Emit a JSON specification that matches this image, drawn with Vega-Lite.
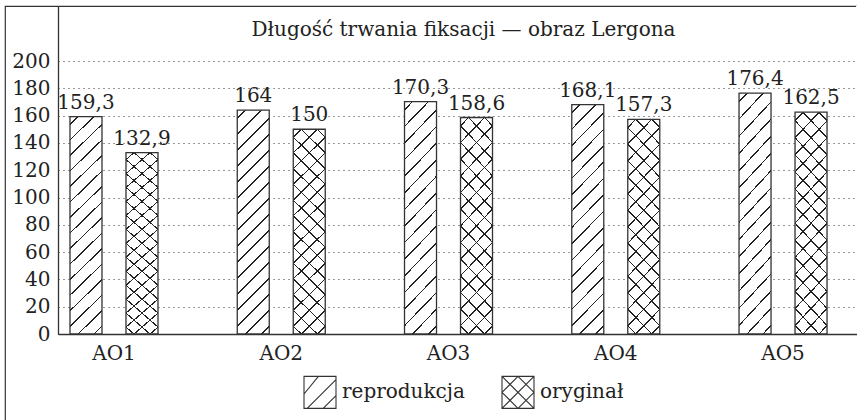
{
"$schema": "https://vega.github.io/schema/vega-lite/v6.json",
"width": 852,
"height": 414,
"autosize": {"type": "none"},
"padding": {"left": 5, "top": 6, "right": 0, "bottom": 0},
"background": "white",
"config": {
  "view": {"stroke": {"gradient": "linear", "x1": 0, "y1": 0, "x2": 1, "y2": 1, "stops": [{"offset": 0, "color": "#333"}, {"offset": 0.4997, "color": "#333"}, {"offset": 0.4997, "color": "rgba(0,0,0,0)"}, {"offset": 1, "color": "rgba(0,0,0,0)"}]}, "strokeWidth": 1.2},
  "font": "DejaVu Serif"
},
"title": {"text": "Długość trwania fiksacji — obraz Lergona", "font": "DejaVu Serif", "fontSize": 20, "fontWeight": "normal", "color": "#222", "anchor": "middle", "frame": "group", "offset": -32, "baseline": "alphabetic", "dx": 32.5, "dy": 18},
"data": {"values": [
  {"ao": "AO1", "seria": "reprodukcja", "v": 159.3, "lab": "159,3"},
  {"ao": "AO1", "seria": "oryginał", "v": 132.9, "lab": "132,9"},
  {"ao": "AO2", "seria": "reprodukcja", "v": 164, "lab": "164"},
  {"ao": "AO2", "seria": "oryginał", "v": 150, "lab": "150"},
  {"ao": "AO3", "seria": "reprodukcja", "v": 170.3, "lab": "170,3"},
  {"ao": "AO3", "seria": "oryginał", "v": 158.6, "lab": "158,6"},
  {"ao": "AO4", "seria": "reprodukcja", "v": 168.1, "lab": "168,1"},
  {"ao": "AO4", "seria": "oryginał", "v": 157.3, "lab": "157,3"},
  {"ao": "AO5", "seria": "reprodukcja", "v": 176.4, "lab": "176,4"},
  {"ao": "AO5", "seria": "oryginał", "v": 162.5, "lab": "162,5"}
]},
"encoding": {
  "x": {"field": "ao", "type": "nominal", "scale": {"range": [53, 852], "paddingInner": 0.5, "paddingOuter": 0.1385, "align": 0.306},
        "axis": {"title": null, "orient": "bottom", "offset": -86, "ticks": false, "tickSize": 0, "labelPadding": 9, "labelAngle": 0, "labelFont": "DejaVu Serif", "labelFontSize": 20, "labelColor": "#222", "domainColor": "#333", "domainWidth": 1.3, "grid": false}},
  "xOffset": {"field": "seria", "type": "nominal", "scale": {"domain": ["reprodukcja", "oryginał"], "paddingInner": 0.6, "paddingOuter": 0.0467}},
  "y": {"field": "v", "type": "quantitative", "scale": {"domain": [0, 240.3], "range": [328, 0], "nice": false, "zero": true},
        "axis": {"title": null, "orient": "left", "offset": -53, "values": [0, 20, 40, 60, 80, 100, 120, 140, 160, 180, 200], "ticks": false, "tickSize": 0, "labelPadding": 8, "labelFont": "DejaVu Serif", "labelFontSize": 20, "labelColor": "#222", "labelFlush": false, "domainColor": "#333", "domainWidth": 1.3, "grid": true, "gridDash": [1, 4], "gridColor": "#333", "gridWidth": 1}}
},
"layer": [
  {"transform": [{"filter": "datum.seria === 'reprodukcja'"}],
   "mark": {"type": "bar", "width": 32, "stroke": "#333", "strokeWidth": 1.3,
     "fill": {"gradient": "linear", "x1": 0, "y1": 0, "x2": 0.16, "y2": 1.12, "stops": [
       {"offset": 0, "color": "#fff"},
       {"offset": 0.028125, "color": "#fff"}, {"offset": 0.028125, "color": "#222"}, {"offset": 0.034375, "color": "#222"}, {"offset": 0.034375, "color": "#fff"},
       {"offset": 0.090625, "color": "#fff"}, {"offset": 0.090625, "color": "#222"}, {"offset": 0.096875, "color": "#222"}, {"offset": 0.096875, "color": "#fff"},
       {"offset": 0.153125, "color": "#fff"}, {"offset": 0.153125, "color": "#222"}, {"offset": 0.159375, "color": "#222"}, {"offset": 0.159375, "color": "#fff"},
       {"offset": 0.215625, "color": "#fff"}, {"offset": 0.215625, "color": "#222"}, {"offset": 0.221875, "color": "#222"}, {"offset": 0.221875, "color": "#fff"},
       {"offset": 0.278125, "color": "#fff"}, {"offset": 0.278125, "color": "#222"}, {"offset": 0.284375, "color": "#222"}, {"offset": 0.284375, "color": "#fff"},
       {"offset": 0.340625, "color": "#fff"}, {"offset": 0.340625, "color": "#222"}, {"offset": 0.346875, "color": "#222"}, {"offset": 0.346875, "color": "#fff"},
       {"offset": 0.403125, "color": "#fff"}, {"offset": 0.403125, "color": "#222"}, {"offset": 0.409375, "color": "#222"}, {"offset": 0.409375, "color": "#fff"},
       {"offset": 0.465625, "color": "#fff"}, {"offset": 0.465625, "color": "#222"}, {"offset": 0.471875, "color": "#222"}, {"offset": 0.471875, "color": "#fff"},
       {"offset": 0.528125, "color": "#fff"}, {"offset": 0.528125, "color": "#222"}, {"offset": 0.534375, "color": "#222"}, {"offset": 0.534375, "color": "#fff"},
       {"offset": 0.590625, "color": "#fff"}, {"offset": 0.590625, "color": "#222"}, {"offset": 0.596875, "color": "#222"}, {"offset": 0.596875, "color": "#fff"},
       {"offset": 0.653125, "color": "#fff"}, {"offset": 0.653125, "color": "#222"}, {"offset": 0.659375, "color": "#222"}, {"offset": 0.659375, "color": "#fff"},
       {"offset": 0.715625, "color": "#fff"}, {"offset": 0.715625, "color": "#222"}, {"offset": 0.721875, "color": "#222"}, {"offset": 0.721875, "color": "#fff"},
       {"offset": 0.778125, "color": "#fff"}, {"offset": 0.778125, "color": "#222"}, {"offset": 0.784375, "color": "#222"}, {"offset": 0.784375, "color": "#fff"},
       {"offset": 0.840625, "color": "#fff"}, {"offset": 0.840625, "color": "#222"}, {"offset": 0.846875, "color": "#222"}, {"offset": 0.846875, "color": "#fff"},
       {"offset": 0.903125, "color": "#fff"}, {"offset": 0.903125, "color": "#222"}, {"offset": 0.909375, "color": "#222"}, {"offset": 0.909375, "color": "#fff"},
       {"offset": 0.965625, "color": "#fff"}, {"offset": 0.965625, "color": "#222"}, {"offset": 0.971875, "color": "#222"}, {"offset": 0.971875, "color": "#fff"},
       {"offset": 1, "color": "#fff"}
     ]}}},
  {"transform": [{"filter": "datum.seria === 'oryginał'"}],
   "mark": {"type": "bar", "width": 32, "strokeWidth": 0,
     "fill": {"gradient": "linear", "x1": 0, "y1": 0, "x2": 0.1734, "y2": 1.1272, "stops": [
       {"offset": 0, "color": "#fff"},
       {"offset": 0.03, "color": "#fff"}, {"offset": 0.03, "color": "#222"}, {"offset": 0.036667, "color": "#222"}, {"offset": 0.036667, "color": "#fff"},
       {"offset": 0.096667, "color": "#fff"}, {"offset": 0.096667, "color": "#222"}, {"offset": 0.103333, "color": "#222"}, {"offset": 0.103333, "color": "#fff"},
       {"offset": 0.163333, "color": "#fff"}, {"offset": 0.163333, "color": "#222"}, {"offset": 0.17, "color": "#222"}, {"offset": 0.17, "color": "#fff"},
       {"offset": 0.23, "color": "#fff"}, {"offset": 0.23, "color": "#222"}, {"offset": 0.236667, "color": "#222"}, {"offset": 0.236667, "color": "#fff"},
       {"offset": 0.296667, "color": "#fff"}, {"offset": 0.296667, "color": "#222"}, {"offset": 0.303333, "color": "#222"}, {"offset": 0.303333, "color": "#fff"},
       {"offset": 0.363333, "color": "#fff"}, {"offset": 0.363333, "color": "#222"}, {"offset": 0.37, "color": "#222"}, {"offset": 0.37, "color": "#fff"},
       {"offset": 0.43, "color": "#fff"}, {"offset": 0.43, "color": "#222"}, {"offset": 0.436667, "color": "#222"}, {"offset": 0.436667, "color": "#fff"},
       {"offset": 0.496667, "color": "#fff"}, {"offset": 0.496667, "color": "#222"}, {"offset": 0.503333, "color": "#222"}, {"offset": 0.503333, "color": "#fff"},
       {"offset": 0.563333, "color": "#fff"}, {"offset": 0.563333, "color": "#222"}, {"offset": 0.57, "color": "#222"}, {"offset": 0.57, "color": "#fff"},
       {"offset": 0.63, "color": "#fff"}, {"offset": 0.63, "color": "#222"}, {"offset": 0.636667, "color": "#222"}, {"offset": 0.636667, "color": "#fff"},
       {"offset": 0.696667, "color": "#fff"}, {"offset": 0.696667, "color": "#222"}, {"offset": 0.703333, "color": "#222"}, {"offset": 0.703333, "color": "#fff"},
       {"offset": 0.763333, "color": "#fff"}, {"offset": 0.763333, "color": "#222"}, {"offset": 0.77, "color": "#222"}, {"offset": 0.77, "color": "#fff"},
       {"offset": 0.83, "color": "#fff"}, {"offset": 0.83, "color": "#222"}, {"offset": 0.836667, "color": "#222"}, {"offset": 0.836667, "color": "#fff"},
       {"offset": 0.896667, "color": "#fff"}, {"offset": 0.896667, "color": "#222"}, {"offset": 0.903333, "color": "#222"}, {"offset": 0.903333, "color": "#fff"},
       {"offset": 0.963333, "color": "#fff"}, {"offset": 0.963333, "color": "#222"}, {"offset": 0.97, "color": "#222"}, {"offset": 0.97, "color": "#fff"},
       {"offset": 1, "color": "#fff"}
     ]}}},
  {"transform": [{"filter": "datum.seria === 'oryginał'"}],
   "mark": {"type": "bar", "width": 32, "stroke": "#333", "strokeWidth": 1.3,
     "fill": {"gradient": "linear", "x1": 0, "y1": 1, "x2": 0.1734, "y2": -0.1272, "stops": [
       {"offset": 0, "color": "rgba(0,0,0,0)"},
       {"offset": 0.03, "color": "rgba(0,0,0,0)"}, {"offset": 0.03, "color": "#222"}, {"offset": 0.036667, "color": "#222"}, {"offset": 0.036667, "color": "rgba(0,0,0,0)"},
       {"offset": 0.096667, "color": "rgba(0,0,0,0)"}, {"offset": 0.096667, "color": "#222"}, {"offset": 0.103333, "color": "#222"}, {"offset": 0.103333, "color": "rgba(0,0,0,0)"},
       {"offset": 0.163333, "color": "rgba(0,0,0,0)"}, {"offset": 0.163333, "color": "#222"}, {"offset": 0.17, "color": "#222"}, {"offset": 0.17, "color": "rgba(0,0,0,0)"},
       {"offset": 0.23, "color": "rgba(0,0,0,0)"}, {"offset": 0.23, "color": "#222"}, {"offset": 0.236667, "color": "#222"}, {"offset": 0.236667, "color": "rgba(0,0,0,0)"},
       {"offset": 0.296667, "color": "rgba(0,0,0,0)"}, {"offset": 0.296667, "color": "#222"}, {"offset": 0.303333, "color": "#222"}, {"offset": 0.303333, "color": "rgba(0,0,0,0)"},
       {"offset": 0.363333, "color": "rgba(0,0,0,0)"}, {"offset": 0.363333, "color": "#222"}, {"offset": 0.37, "color": "#222"}, {"offset": 0.37, "color": "rgba(0,0,0,0)"},
       {"offset": 0.43, "color": "rgba(0,0,0,0)"}, {"offset": 0.43, "color": "#222"}, {"offset": 0.436667, "color": "#222"}, {"offset": 0.436667, "color": "rgba(0,0,0,0)"},
       {"offset": 0.496667, "color": "rgba(0,0,0,0)"}, {"offset": 0.496667, "color": "#222"}, {"offset": 0.503333, "color": "#222"}, {"offset": 0.503333, "color": "rgba(0,0,0,0)"},
       {"offset": 0.563333, "color": "rgba(0,0,0,0)"}, {"offset": 0.563333, "color": "#222"}, {"offset": 0.57, "color": "#222"}, {"offset": 0.57, "color": "rgba(0,0,0,0)"},
       {"offset": 0.63, "color": "rgba(0,0,0,0)"}, {"offset": 0.63, "color": "#222"}, {"offset": 0.636667, "color": "#222"}, {"offset": 0.636667, "color": "rgba(0,0,0,0)"},
       {"offset": 0.696667, "color": "rgba(0,0,0,0)"}, {"offset": 0.696667, "color": "#222"}, {"offset": 0.703333, "color": "#222"}, {"offset": 0.703333, "color": "rgba(0,0,0,0)"},
       {"offset": 0.763333, "color": "rgba(0,0,0,0)"}, {"offset": 0.763333, "color": "#222"}, {"offset": 0.77, "color": "#222"}, {"offset": 0.77, "color": "rgba(0,0,0,0)"},
       {"offset": 0.83, "color": "rgba(0,0,0,0)"}, {"offset": 0.83, "color": "#222"}, {"offset": 0.836667, "color": "#222"}, {"offset": 0.836667, "color": "rgba(0,0,0,0)"},
       {"offset": 0.896667, "color": "rgba(0,0,0,0)"}, {"offset": 0.896667, "color": "#222"}, {"offset": 0.903333, "color": "#222"}, {"offset": 0.903333, "color": "rgba(0,0,0,0)"},
       {"offset": 0.963333, "color": "rgba(0,0,0,0)"}, {"offset": 0.963333, "color": "#222"}, {"offset": 0.97, "color": "#222"}, {"offset": 0.97, "color": "rgba(0,0,0,0)"},
       {"offset": 1, "color": "rgba(0,0,0,0)"}
     ]}}},
  {"mark": {"type": "text", "font": "DejaVu Serif", "fontSize": 20, "color": "#222", "baseline": "alphabetic", "align": "center", "dy": -8},
   "encoding": {"text": {"field": "lab", "type": "nominal"}}},
  {"mark": {"type": "point", "opacity": 0},
   "encoding": {"shape": {"field": "seria", "type": "nominal",
     "scale": {"domain": ["reprodukcja", "oryginał"], "range": ["M-1,-1L1,-1L1,1L-1,1Z M-1,0.1L-0.1,-1 M-0.8,1L1,-0.8 M0.2,1L1,0.2", "M-1,-1L1,-1L1,1L-1,1Z M-1,0L0,-1 M-1,1L1,-1 M0,1L1,0 M-1,0L0,1 M-1,-1L1,1 M0,-1L1,0"]},
     "legend": {"title": null, "orient": "none", "legendX": 298, "legendY": 369, "direction": "horizontal", "padding": 0,
       "labelFont": "DejaVu Serif", "labelFontSize": 20, "labelColor": "#222", "labelOffset": 5, "columnPadding": 34,
       "symbolSize": 1024, "symbolStrokeWidth": 1.1, "symbolStrokeColor": "#333", "symbolFillColor": "white", "symbolOpacity": 1,
       "encode": {"symbols": {"update": {"fill": {"value": "white"}, "stroke": {"value": "#333"}, "strokeWidth": {"value": 1.1}, "opacity": {"value": 1}, "size": {"value": 1024}}}}}}}}
]
}
